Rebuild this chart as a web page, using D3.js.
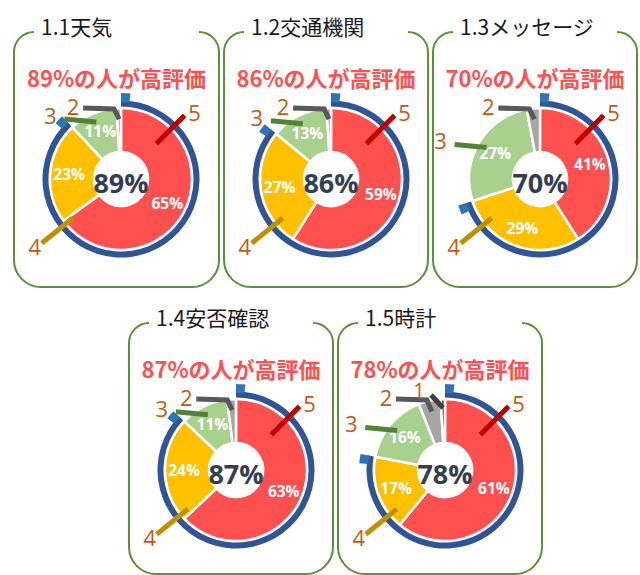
<!DOCTYPE html>
<html>
<head>
<meta charset="utf-8">
<script src="https://cdn.jsdelivr.net/npm/d3@7"></script>
<style>
  body { margin: 0; background: #fff; }
  svg { display: block; }
</style>
</head>
<body>
<svg id="chart" width="640" height="575"></svg>
<script>
// survey results, percent of answers per rating (5 = best)
const titles = ["1.1天気", "1.2交通機関", "1.3メッセージ", "1.4安否確認", "1.5時計"];
const highRating = [89, 86, 70, 87, 78];
const rating5 = [65, 59, 41, 63, 61];
const rating4 = [23, 27, 29, 24, 17];
const rating3 = [11, 13, 27, 11, 16];
const rating2 = [1, 1, 3, 2, 5];
const rating1 = [0, 0, 0, 0, 1];
const ratingKeys = ["5", "4", "3", "2", "1"];

// panel boxes (layout only)
const panels = [
    {x: 14, y: 32, w: 205, h: 255},
    {x: 224, y: 32, w: 204, h: 255},
    {x: 433, y: 32, w: 204, h: 255},
    {x: 129, y: 323, w: 204, h: 251},
    {x: 338, y: 323, w: 204, h: 251}
];

const sliceColor = d3.scaleOrdinal().domain(ratingKeys)
    .range(["#ff5050", "#ffc000", "#a9d18e", "#a6a6a6", "#595959"]);
const leaderColor = d3.scaleOrdinal().domain(ratingKeys)
    .range(["#c00000", "#bf9000", "#548235", "#595959", "#404040"]);

const rOuter = 71, rInner = 27;
const pie = d3.pie().sort(null).value(d => d.value);
const sliceArc = d3.arc().innerRadius(rInner).outerRadius(rOuter);
const labelArc = d3.arc().innerRadius(33).outerRadius(rOuter);
const ringArc = d3.arc().innerRadius(72.5).outerRadius(78.5);
const tabArc = d3.arc().innerRadius(77).outerRadius(86);
const tabWidth = 0.11;

const cjk = "'Noto Sans CJK JP', 'Noto Sans', sans-serif";
const latin = "'Open Sans', 'Noto Sans', sans-serif";

const svg = d3.select("#chart");

// point on a circle, d3 angle convention (0 = 12 o'clock, clockwise)
function polar(a, r) {
    return [r * Math.sin(a), -r * Math.cos(a)];
}

// rounded box with the top edge left open for the title
function boxPath(x, y, w, h, rt, rb) {
    const p = d3.path();
    p.moveTo(x + rt, y);
    p.arcTo(x, y, x, y + rt, rt);
    p.lineTo(x, y + h - rb);
    p.arcTo(x, y + h, x + rb, y + h, rb);
    p.lineTo(x + w - rb, y + h);
    p.arcTo(x + w, y + h, x + w, y + h - rb, rb);
    p.lineTo(x + w, y + rt);
    p.arcTo(x + w, y, x + w - rt, y, rt);
    return p.toString();
}

titles.forEach((title, i) => {
    const box = panels[i];
    const g = svg.append("g");

    g.append("path")
        .attr("d", boxPath(box.x, box.y, box.w, box.h, 20, 27))
        .attr("fill", "none")
        .attr("stroke", "#5f8f3a")
        .attr("stroke-width", 2);

    g.append("text")
        .attr("x", box.x + 27)
        .attr("y", box.y - 6)
        .attr("dominant-baseline", "central")
        .attr("font-family", cjk)
        .attr("font-size", 21)
        .attr("fill", "#1a1a1a")
        .text(title);

    g.append("text")
        .attr("x", box.x + box.w / 2)
        .attr("y", box.y + 45)
        .attr("text-anchor", "middle")
        .attr("dominant-baseline", "central")
        .attr("font-family", cjk)
        .attr("font-weight", 700)
        .attr("font-size", 22)
        .attr("fill", "#ff5050")
        .text(`${highRating[i]}%の人が高評価`);

    const values = [rating5[i], rating4[i], rating3[i], rating2[i], rating1[i]];
    const slices = pie(ratingKeys.map((k, j) => ({key: k, value: values[j]})));
    const bySlice = {};
    slices.forEach(s => bySlice[s.data.key] = s);

    const cx = box.x + 107, cy = box.y + 147;
    const pg = g.append("g").attr("transform", `translate(${cx},${cy})`);

    pg.selectAll("path.slice")
        .data(slices.filter(s => s.value > 0))
        .join("path")
        .attr("class", "slice")
        .attr("d", sliceArc)
        .attr("fill", d => sliceColor(d.data.key))
        .attr("stroke", "#fff")
        .attr("stroke-width", 2.5)
        .attr("stroke-linejoin", "round");

    // blue ring spans the 5 + 4 share
    const ringEnd = bySlice["4"].endAngle;
    pg.append("path")
        .attr("d", ringArc({startAngle: 0, endAngle: ringEnd}))
        .attr("fill", "#2f5597");
    pg.append("path")
        .attr("d", tabArc({startAngle: 0, endAngle: tabWidth}))
        .attr("fill", "#2e75b6");
    pg.append("path")
        .attr("d", tabArc({startAngle: ringEnd - tabWidth, endAngle: ringEnd}))
        .attr("fill", "#2e75b6");

    pg.append("circle").attr("r", rInner).attr("fill", "#fff");

    pg.append("text")
        .attr("y", 3)
        .attr("text-anchor", "middle")
        .attr("dominant-baseline", "central")
        .attr("font-family", latin)
        .attr("font-weight", 700)
        .attr("font-size", 27)
        .attr("fill", "#333f50")
        .text(`${highRating[i]}%`);

    pg.selectAll("text.pct")
        .data(slices.filter(s => s.value >= 10))
        .join("text")
        .attr("class", "pct")
        .attr("transform", d => `translate(${labelArc.centroid(d)})`)
        .attr("text-anchor", "middle")
        .attr("dominant-baseline", "central")
        .attr("font-family", latin)
        .attr("font-weight", 700)
        .attr("font-size", 15.5)
        .attr("fill", "#fff")
        .text(d => `${d.value}%`);

    // leader lines with rating numbers
    const leaders = [];
    {
        const a = Math.PI / 4;
        const p0 = polar(a, 50), p1 = polar(a, 90);
        leaders.push({key: "5", pts: [p0, p1], label: [p1[0] + 10, p1[1] - 3]});
    }
    {
        const a = 231 * Math.PI / 180;
        const p0 = polar(a, 62), p1 = polar(a, 102);
        leaders.push({key: "4", pts: [p0, p1], label: [p1[0] - 7, p1[1] + 3]});
    }
    {
        const s = bySlice["3"];
        const end = polar((s.startAngle + s.endAngle) / 2, 62);
        const start = [end[0] - 32, end[1] - 3];
        leaders.push({key: "3", pts: [start, end], label: [start[0] - 14, start[1] - 4]});
    }
    {
        const s = bySlice["2"];
        const tip = polar((s.startAngle + s.endAngle) / 2, 60);
        const elbow = [tip[0] - 5, -70];
        const start = [elbow[0] - 31, elbow[1] - 1];
        leaders.push({key: "2", pts: [start, elbow, tip], label: [start[0] - 10, start[1] - 2]});
    }
    if (bySlice["1"].value > 0) {
        const s = bySlice["1"];
        const tip = polar((s.startAngle + s.endAngle) / 2, 62);
        const start = [tip[0] - 12, tip[1] - 13];
        leaders.push({key: "1", pts: [start, tip], label: [start[0] - 12, start[1] - 6], size: 20});
    }

    pg.selectAll("path.leader")
        .data(leaders)
        .join("path")
        .attr("class", "leader")
        .attr("d", d => d3.line()(d.pts))
        .attr("fill", "none")
        .attr("stroke", d => leaderColor(d.key))
        .attr("stroke-width", 5);

    pg.selectAll("text.num")
        .data(leaders)
        .join("text")
        .attr("class", "num")
        .attr("x", d => d.label[0])
        .attr("y", d => d.label[1])
        .attr("text-anchor", "middle")
        .attr("dominant-baseline", "central")
        .attr("font-family", latin)
        .attr("font-size", d => d.size || 22)
        .attr("fill", "#c55a11")
        .text(d => d.key);
});
</script>
</body>
</html>
